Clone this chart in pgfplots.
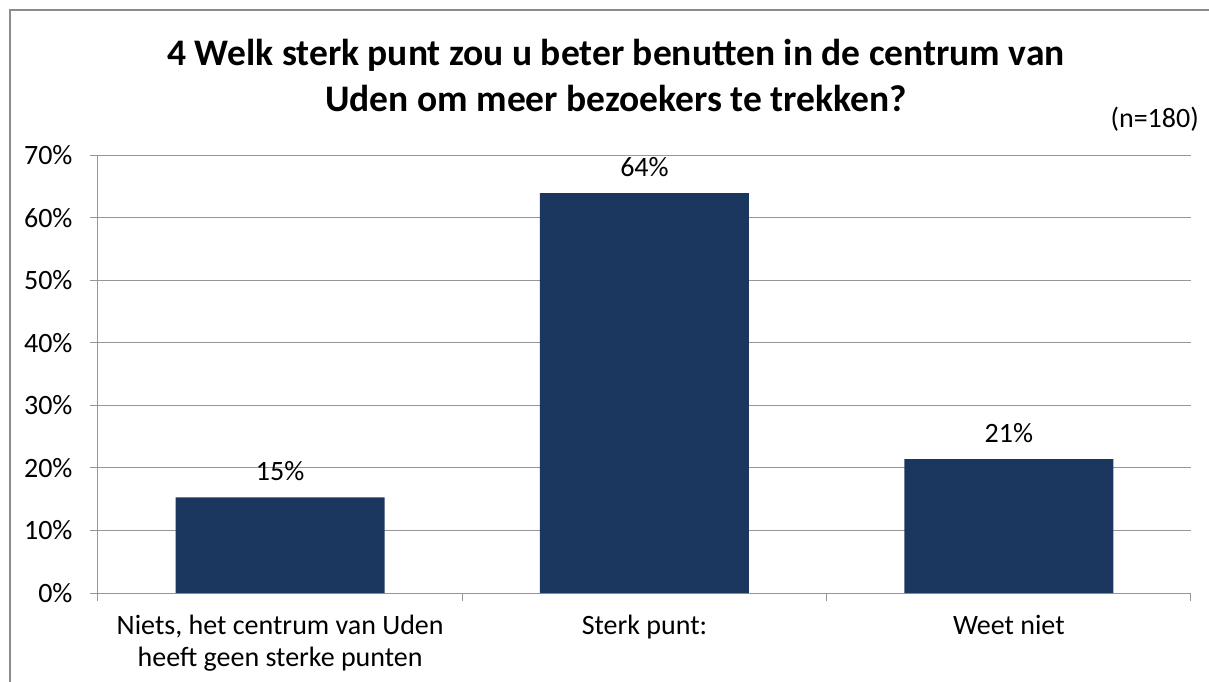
\documentclass[border=0pt]{standalone}
\usepackage{pgfplots}
\pgfplotsset{compat=1.18}
\usepackage{fontspec}
\setmainfont{Carlito}
\definecolor{barblue}{RGB}{27,55,96}
\definecolor{gridgray}{RGB}{150,150,150}
\definecolor{framegray}{RGB}{140,140,140}
\begin{document}
\begin{tikzpicture}[x=1pt,y=1pt]
\path[use as bounding box] (-98,-89) rectangle (1111,593);
\draw[framegray, line width=1.5pt] (-88,-95) -- (-88,583) -- (1120,583);
\begin{axis}[
  scale only axis,
  width=1093pt, height=438pt,
  at={(0,0)}, anchor=south west,
  xmin=-0.5, xmax=2.5,
  ymin=0, ymax=70,
  axis lines*=left,
  axis line style={gridgray, line width=1pt},
  ytick={0,10,20,30,40,50,60,70},
  yticklabels={0\%,10\%,20\%,30\%,40\%,50\%,60\%,70\%},
  xtick={-0.5,0.5,1.5,2.5},
  xticklabels={{Niets, het centrum van Uden\\heeft geen sterke punten},{Sterk punt:},{Weet niet}},
  x tick label as interval,
  tick align=outside,
  major tick length=8pt,
  tick style={gridgray, line width=1pt},
  ymajorgrids,
  grid style={gridgray, line width=1pt},
  ticklabel style={font=\fontsize{28}{32}\selectfont, text=black},
  xticklabel style={align=center, anchor=north, yshift=-11pt},
  yticklabel style={xshift=-14pt},
  ybar, bar width=209pt,
  nodes near coords,
  point meta=explicit symbolic,
  nodes near coords style={font=\fontsize{28}{32}\selectfont, text=black, anchor=base, yshift=17pt},
  clip=false,
]
\addplot[fill=barblue, draw=none] coordinates {(0,15.3) [15\%] (1,63.9) [64\%] (2,21.4) [21\%]};
\end{axis}
\node[anchor=base, align=center, font=\fontsize{37.5}{46}\selectfont\bfseries] at (518,481) {4 Welk sterk punt zou u beter benutten in de centrum van\\Uden om meer bezoekers te trekken?};
\node[anchor=base east, inner sep=0pt, font=\fontsize{28}{32}\selectfont] at (1101,465) {(n=180)};
\end{tikzpicture}
\end{document}
